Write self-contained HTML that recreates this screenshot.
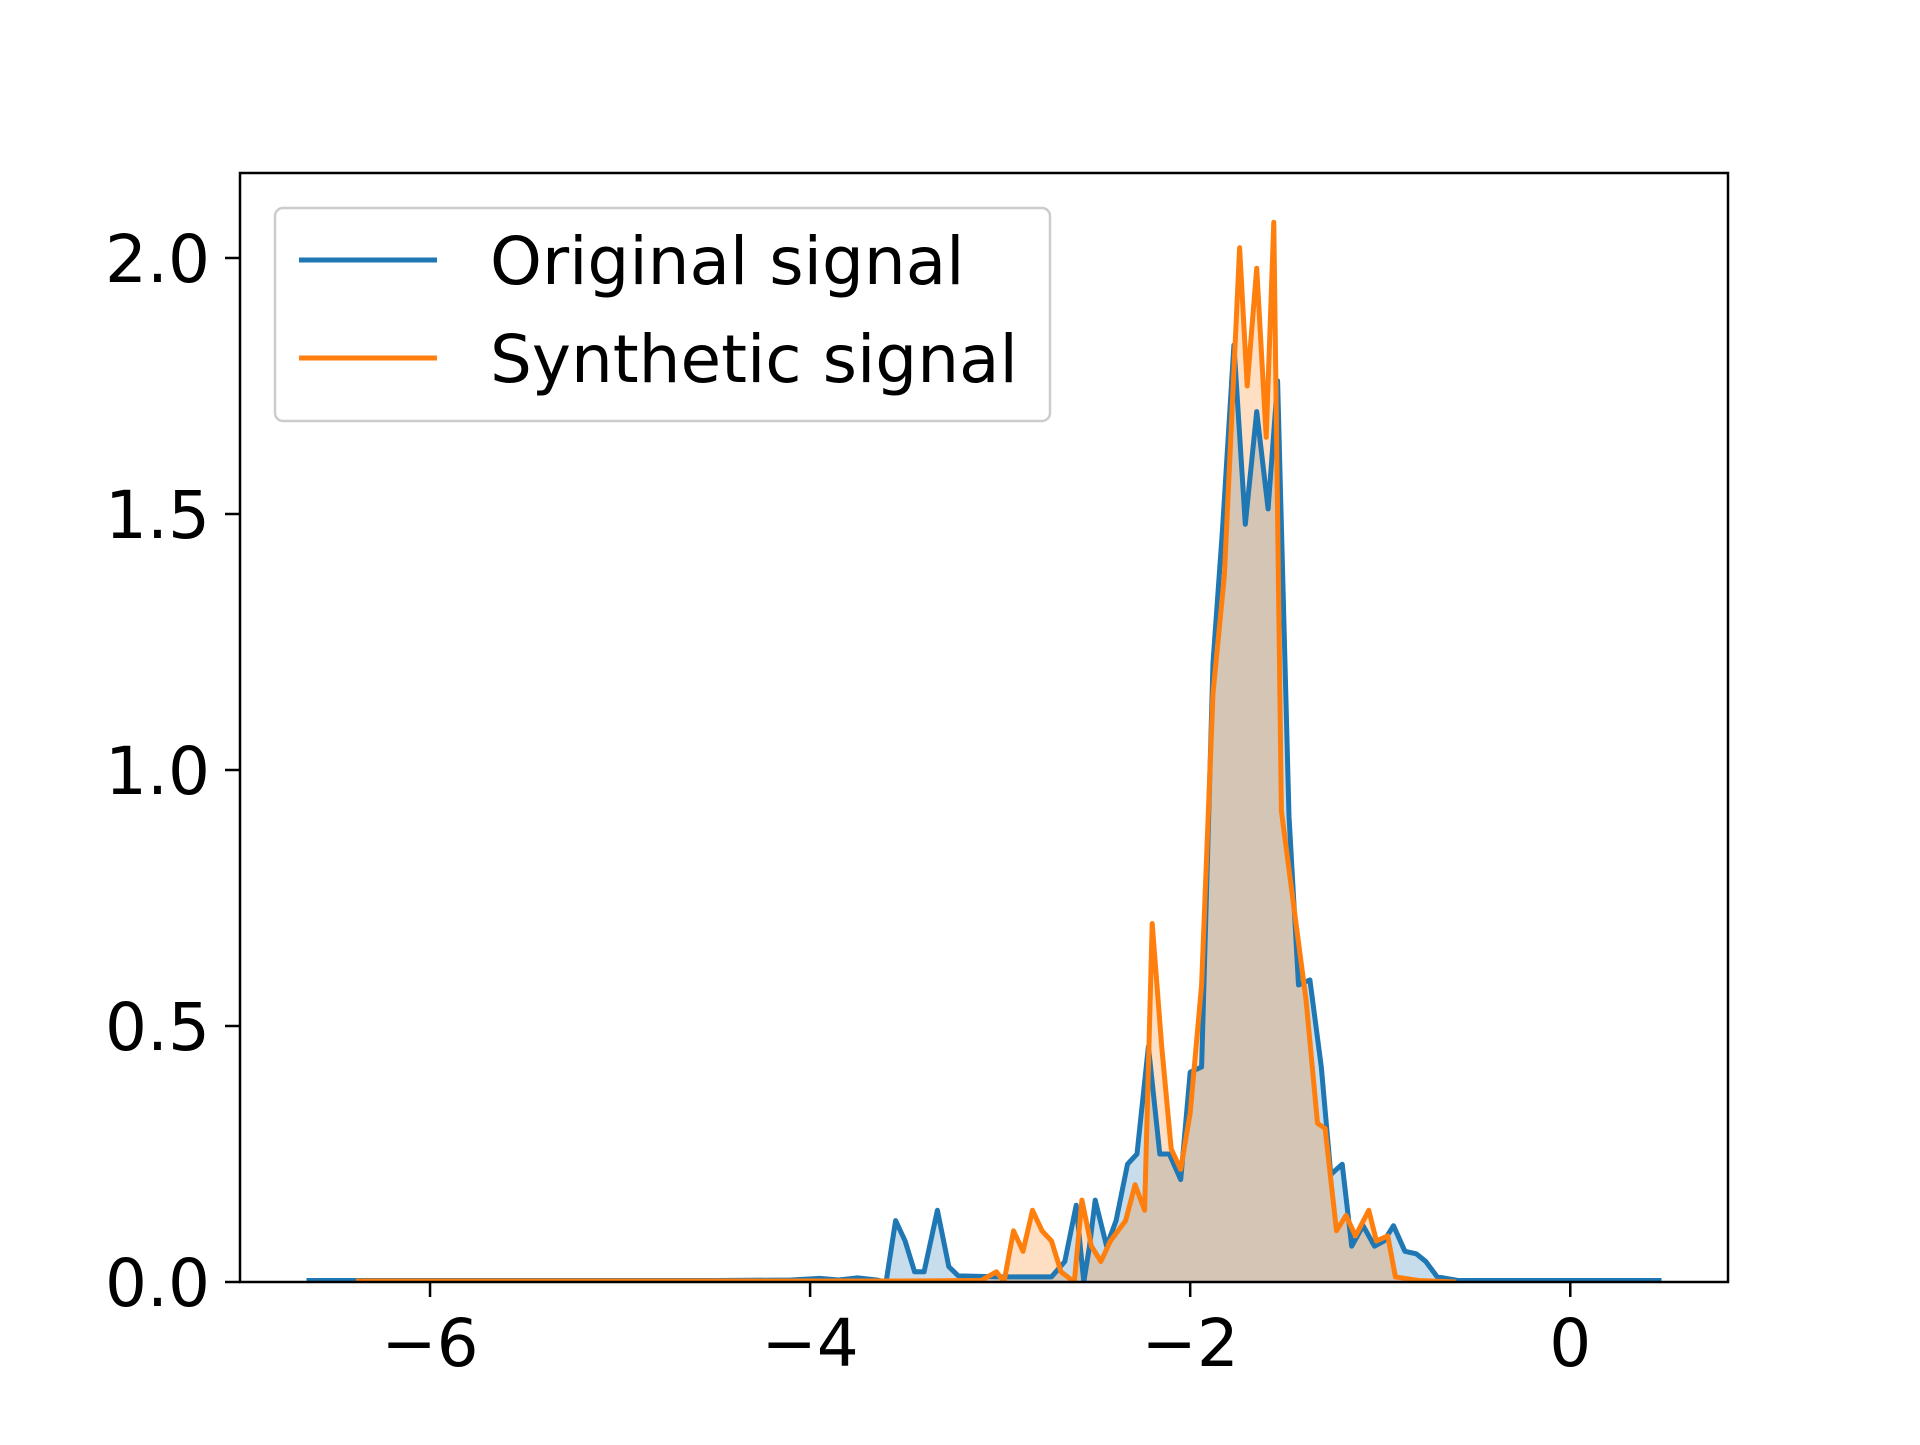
<!DOCTYPE html>
<html><head><meta charset="utf-8"><style>
html,body{margin:0;padding:0;background:#fff;}
svg text{font-family:"DejaVu Sans","Liberation Sans",sans-serif;}
</style></head><body>
<svg id="chart" width="1920" height="1440" xmlns="http://www.w3.org/2000/svg">
<rect width="1920" height="1440" fill="#fff"/>
<g id="plot"></g>
<g id="axes"></g>
</svg>
<script>
const xTicks=[-6,-4,-2,0];
const xTickLabels=["\u22126","\u22124","\u22122","0"];
const yTicks=[0,0.5,1,1.5,2];
const yTickLabels=["0.0","0.5","1.0","1.5","2.0"];
const seriesNames=["Original signal","Synthetic signal"];
const origX=[-6.65,-6.4,-6.0,-5.5,-5.0,-4.5,-4.1,-3.95,-3.85,-3.75,-3.65,-3.60,-3.55,-3.50,-3.45,-3.40,-3.33,-3.27,-3.22,-3.0,-2.8,-2.73,-2.66,-2.60,-2.56,-2.53,-2.50,-2.44,-2.39,-2.33,-2.28,-2.22,-2.16,-2.11,-2.05,-2.0,-1.94,-1.88,-1.83,-1.77,-1.71,-1.65,-1.59,-1.54,-1.48,-1.43,-1.37,-1.31,-1.26,-1.20,-1.15,-1.09,-1.03,-0.98,-0.93,-0.87,-0.81,-0.76,-0.70,-0.59,-0.3,0.0,0.3,0.48];
const origY=[0.003,0.003,0.003,0.003,0.003,0.003,0.004,0.007,0.004,0.008,0.004,0.0,0.12,0.08,0.02,0.02,0.14,0.03,0.012,0.01,0.01,0.01,0.04,0.15,0.0,0.07,0.16,0.07,0.12,0.23,0.25,0.46,0.25,0.25,0.2,0.41,0.42,1.21,1.47,1.83,1.48,1.70,1.51,1.76,0.91,0.58,0.59,0.42,0.21,0.23,0.07,0.11,0.07,0.08,0.11,0.06,0.055,0.04,0.01,0.003,0.003,0.003,0.003,0.003];
const synX=[-6.39,-6.0,-5.5,-5.0,-4.5,-4.0,-3.5,-3.1,-3.02,-2.98,-2.93,-2.88,-2.83,-2.78,-2.73,-2.68,-2.61,-2.57,-2.52,-2.47,-2.42,-2.34,-2.29,-2.24,-2.20,-2.15,-2.10,-2.05,-2.0,-1.94,-1.88,-1.82,-1.74,-1.70,-1.65,-1.60,-1.56,-1.52,-1.45,-1.39,-1.33,-1.29,-1.23,-1.18,-1.13,-1.06,-1.02,-0.96,-0.92,-0.8,-0.6];
const synY=[0.002,0.002,0.002,0.002,0.002,0.002,0.002,0.003,0.02,0.0,0.10,0.06,0.14,0.10,0.08,0.02,0.0,0.16,0.07,0.04,0.08,0.12,0.19,0.14,0.70,0.46,0.26,0.22,0.33,0.58,1.15,1.38,2.02,1.75,1.98,1.65,2.07,0.92,0.72,0.55,0.31,0.30,0.10,0.13,0.09,0.14,0.08,0.09,0.01,0.003,0.0];
const colors=["#1f77b4","#ff7f0e"];
const L=240,R=1728,T=173,B=1282;
const xMin=-7.0,xMax=0.83,yMin=0,yMax=2.166;
const sx=v=>L+(v-xMin)/(xMax-xMin)*(R-L);
const sy=v=>B-(v-yMin)/(yMax-yMin)*(B-T);
const NS="http://www.w3.org/2000/svg";
function mk(tag,attrs,parent,text){const e=document.createElementNS(NS,tag);for(const k in attrs)e.setAttribute(k,attrs[k]);if(text!==undefined)e.textContent=text;parent.appendChild(e);return e;}
const plot=document.getElementById('plot'),axes=document.getElementById('axes');
const clip=mk('clipPath',{id:'clip'},plot);mk('rect',{x:L,y:T,width:R-L,height:B-T},clip);
const g=mk('g',{'clip-path':'url(#clip)'},plot);
const data=[[origX,origY],[synX,synY]];
data.forEach((d,i)=>{
  const pts=d[0].map((x,j)=>sx(x).toFixed(1)+','+sy(d[1][j]).toFixed(1));
  const area='M'+sx(d[0][0]).toFixed(1)+','+sy(0)+' L'+pts.join(' L')+' L'+sx(d[0][d[0].length-1]).toFixed(1)+','+sy(0)+' Z';
  const a=mk('path',{d:area,fill:colors[i],'fill-opacity':0.25,stroke:'none'},g);
  
  
});
data.forEach((d,i)=>{
  const pts=d[0].map((x,j)=>sx(x).toFixed(1)+','+sy(d[1][j]).toFixed(1));
  const l=mk('polyline',{points:pts.join(' '),fill:'none',stroke:colors[i],'stroke-width':5,'stroke-linejoin':'round'},g);
  
  
});
const frame=mk('rect',{x:L,y:T,width:R-L,height:B-T,fill:'none',stroke:'#000','stroke-width':2.5},axes);


xTicks.forEach((t,i)=>{
  const x=sx(t);
  mk('line',{x1:x,y1:B,x2:x,y2:B+15,stroke:'#000','stroke-width':2.5},axes);
  const tx=mk('text',{x:x,y:B+84,'font-size':66,'text-anchor':'middle',fill:'#000'},axes,xTickLabels[i]);
  
  
});
yTicks.forEach((t,i)=>{
  const y=sy(t);
  mk('line',{x1:L-15,y1:y,x2:L,y2:y,stroke:'#000','stroke-width':2.5},axes);
  const tx=mk('text',{x:L-30,y:y+24,'font-size':66,'text-anchor':'end',fill:'#000'},axes,yTickLabels[i]);
  
  
});
const leg=mk('g',{},axes);


mk('rect',{x:275,y:208,width:775,height:213,rx:8,fill:'#fff','fill-opacity':0.8,stroke:'#ccc','stroke-width':2.5},leg);
seriesNames.forEach((n,i)=>{
  const y=260+i*98;
  const e=mk('g',{},leg);
  
  
  mk('line',{x1:299,y1:y,x2:437,y2:y,stroke:colors[i],'stroke-width':5},e);
  mk('text',{x:490,y:y+24,'font-size':66,fill:'#000'},e,n);
});
</script>
</body></html>
